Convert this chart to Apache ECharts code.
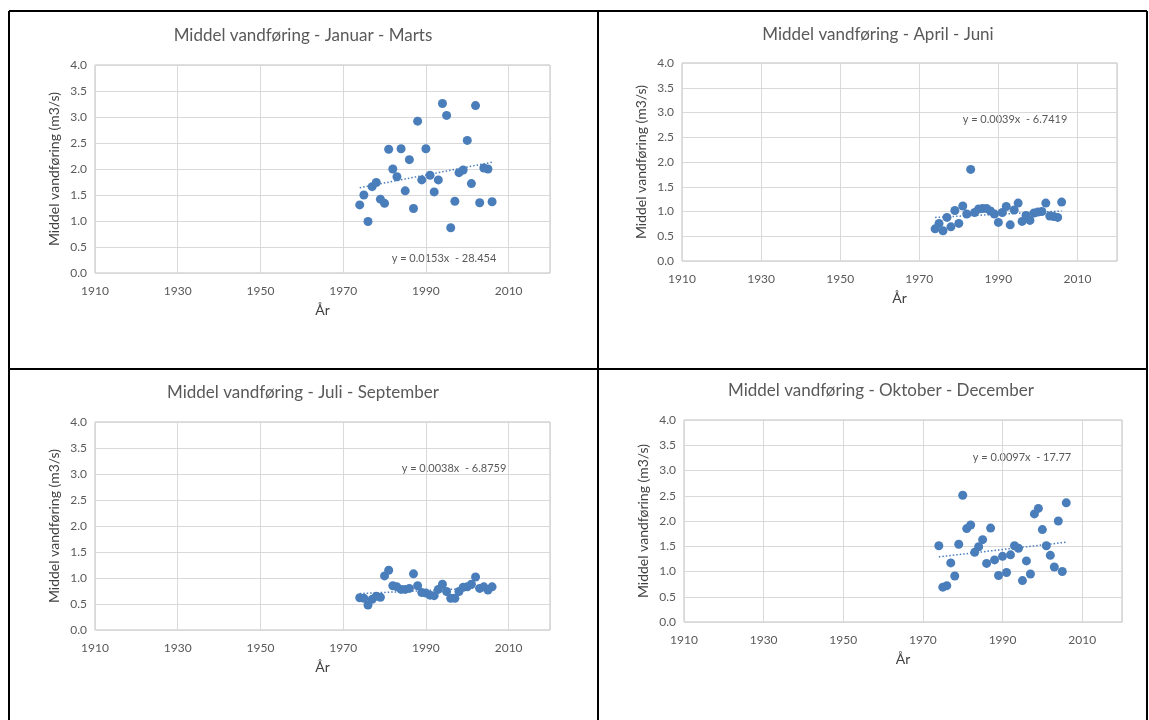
<!DOCTYPE html>
<html>
<head>
<meta charset="utf-8">
<script src="https://cdn.jsdelivr.net/npm/echarts@6/dist/echarts.min.js"></script>
<style>
  html, body { margin: 0; background: #fff; }
  #main { width: 1149px; height: 720px; }
</style>
</head>
<body>
<div id="main"></div>
<script>
// years of observation (same for all four quarters)
var years = [1974, 1975, 1976, 1977, 1978, 1979, 1980, 1981, 1982, 1983, 1984,
             1985, 1986, 1987, 1988, 1989, 1990, 1991, 1992, 1993, 1994, 1995,
             1996, 1997, 1998, 1999, 2000, 2001, 2002, 2003, 2004, 2005, 2006];

var janMar = [1.31, 1.50, 0.99, 1.66, 1.74, 1.42, 1.34, 2.38, 2.00, 1.85, 2.39,
              1.58, 2.18, 1.24, 2.92, 1.79, 2.39, 1.88, 1.56, 1.79, 3.26, 3.03,
              0.87, 1.38, 1.93, 1.98, 2.55, 1.72, 3.22, 1.35, 2.02, 2.00, 1.37];
var aprJun = [0.65, 0.76, 0.61, 0.88, 0.69, 1.02, 0.76, 1.11, 0.95, 1.85, 0.98,
              1.05, 1.06, 1.06, 1.01, 0.95, 0.78, 0.98, 1.10, 0.73, 1.03, 1.17,
              0.80, 0.92, 0.82, 0.97, 0.99, 1.00, 1.17, 0.91, 0.90, 0.88, 1.19];
var julSep = [0.62, 0.61, 0.48, 0.59, 0.65, 0.63, 1.04, 1.15, 0.85, 0.83, 0.78,
              0.78, 0.80, 1.08, 0.85, 0.72, 0.71, 0.67, 0.66, 0.78, 0.88, 0.74,
              0.61, 0.61, 0.74, 0.82, 0.83, 0.88, 1.02, 0.80, 0.83, 0.77, 0.83];
var oktDec = [1.51, 0.69, 0.72, 1.17, 0.91, 1.54, 2.51, 1.85, 1.92, 1.38, 1.49,
              1.63, 1.16, 1.86, 1.23, 0.92, 1.30, 0.98, 1.33, 1.51, 1.46, 0.82,
              1.21, 0.95, 2.14, 2.25, 1.83, 1.51, 1.32, 1.09, 2.00, 1.00, 2.36];

// trend line ends (first year, last year)
var trendYears = [1974, 2006];
var janMarTrend = [1.64, 2.13];
var aprJunTrend = [0.88, 1.01];
var julSepTrend = [0.70, 0.82];
var oktDecTrend = [1.29, 1.58];

var titles = ['Middel vandføring - Januar - Marts', 'Middel vandføring - April - Juni',
              'Middel vandføring - Juli - September', 'Middel vandføring - Oktober - December'];
var equations = ['y = 0.0153x  - 28.454', 'y = 0.0039x  - 6.7419',
                 'y = 0.0038x  - 6.8759', 'y = 0.0097x  - 17.77'];

var xMin = 1910, xMax = 2020, xStep = 20;
var yTicks = ['0.0', '0.5', '1.0', '1.5', '2.0', '2.5', '3.0', '3.5', '4.0'];

var values = [janMar, aprJun, julSep, oktDec];
var trends = [janMarTrend, aprJunTrend, julSepTrend, oktDecTrend];

// layout of the four panels
var boxes = [
    {left: 95,  top: 65,  width: 455, height: 208, titleX: 303, titleY: 36,  eqX: 444,  eqY: 258},
    {left: 682, top: 63,  width: 435, height: 198, titleX: 878, titleY: 35,  eqX: 1015, eqY: 119},
    {left: 95,  top: 422, width: 455, height: 208, titleX: 303, titleY: 393, eqX: 454,  eqY: 468},
    {left: 684, top: 420, width: 438, height: 202, titleX: 881, titleY: 391, eqX: 1022, eqY: 457}
];

var blue = '#4A7EBB';
var font = 'Lato, "Open Sans", sans-serif';

var myChart = echarts.init(document.getElementById('main'));

var option = {
    backgroundColor: '#fff',
    animation: false,
    grid: [], xAxis: [], yAxis: [], series: [],
    graphic: []
};

boxes.forEach(function (b, i) {
    option.grid.push({
        left: b.left, top: b.top, width: b.width, height: b.height,
        show: true, borderColor: '#BFBFBF', borderWidth: 1
    });
    // x is kept as years after 1910 so the 20-year ticks start at the left edge
    option.xAxis.push({
        gridIndex: i, type: 'value',
        min: 0, max: xMax - xMin, interval: xStep,
        name: 'År', nameLocation: 'middle', nameGap: 30,
        nameTextStyle: {color: '#404040', fontSize: 14, fontFamily: font},
        axisLine: {show: false}, axisTick: {show: false},
        axisLabel: {
            color: '#595959', fontSize: 12, fontFamily: font, margin: 12,
            formatter: function (v) { return v >= xMax - xMin ? '' : String(v + xMin); }
        },
        splitLine: {lineStyle: {color: '#D9D9D9'}}
    });
    option.yAxis.push({
        gridIndex: i, type: 'value',
        min: 0, max: 4, interval: 0.5,
        name: 'Middel vandføring (m3/s)', nameLocation: 'middle', nameGap: 34,
        nameTextStyle: {color: '#404040', fontSize: 14, fontFamily: font},
        axisLine: {show: false}, axisTick: {show: false},
        axisLabel: {
            color: '#595959', fontSize: 12, fontFamily: font, margin: 8,
            formatter: function (v) { return yTicks[Math.round(v * 2)]; }
        },
        splitLine: {lineStyle: {color: '#D9D9D9'}}
    });
    option.series.push({
        type: 'scatter', xAxisIndex: i, yAxisIndex: i,
        symbolSize: 9, itemStyle: {color: blue, opacity: 1},
        data: years.map(function (y, k) { return [y - xMin, values[i][k]]; })
    });
    option.series.push({
        type: 'line', xAxisIndex: i, yAxisIndex: i,
        symbol: 'none', silent: true,
        lineStyle: {color: blue, width: 1.5, type: [1.5, 2]},
        data: trendYears.map(function (y, k) { return [y - xMin, trends[i][k]]; })
    });
    option.graphic.push({
        type: 'text', x: b.titleX, y: b.titleY,
        style: {text: titles[i], fill: '#595959', font: '17px ' + font,
                textAlign: 'center', textVerticalAlign: 'middle'}
    });
    option.graphic.push({
        type: 'text', x: b.eqX, y: b.eqY,
        style: {text: equations[i], fill: '#595959', font: '11px ' + font,
                textAlign: 'center', textVerticalAlign: 'middle'}
    });
});

// table borders round the four charts
var lines = [
    [9, 11, 1147, 11], [9, 11, 9, 720], [1147, 11, 1147, 720],
    [598, 11, 598, 720], [9, 369, 1147, 369]
];
lines.forEach(function (l) {
    option.graphic.push({
        type: 'line', shape: {x1: l[0], y1: l[1], x2: l[2], y2: l[3]},
        style: {stroke: '#000', lineWidth: 2}
    });
});

myChart.setOption(option);
</script>
</body>
</html>
